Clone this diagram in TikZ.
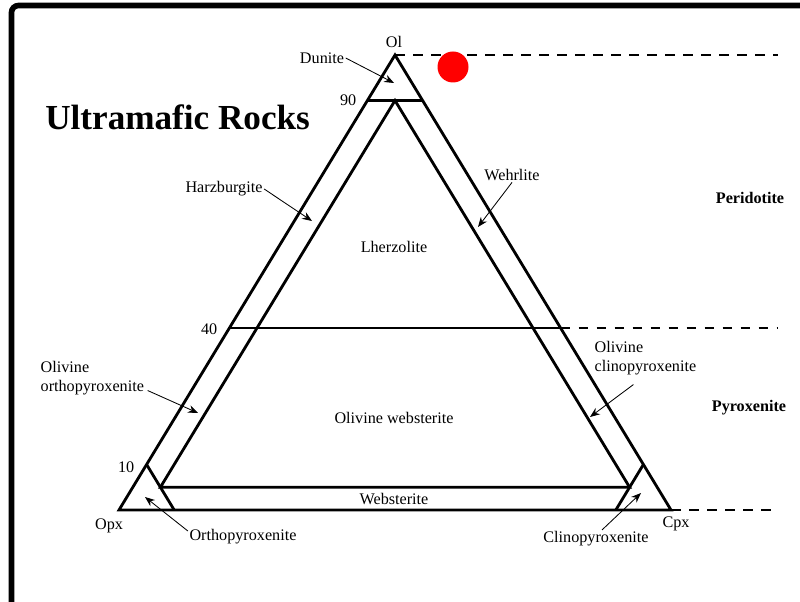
\documentclass[tikz,border=0pt]{standalone}
\usepackage{fontspec}
\setmainfont{Liberation Serif}
\usetikzlibrary{positioning,arrows.meta,calc}
\definecolor{dotR}{HTML}{FF0000}
\tikzset{
 edge/.style={line width=2pt, line join=miter},
 dashline/.style={line width=2pt, dash pattern=on 7pt off 5.8pt},
 arr/.style={-{Stealth[length=7pt,width=5.5pt]}, line width=0.6pt},
 lbl/.style={font=\fontsize{11.5}{13.5}\selectfont, inner sep=1pt, align=left},
 grp/.style={font=\fontsize{11.5}{13.5}\selectfont\bfseries, inner sep=1pt},
}
\begin{document}
\begin{tikzpicture}[x=0.025cm, y=-0.025cm]
\useasboundingbox (0,0) rectangle (800,602);
\clip (0,0) rectangle (800,602);
% frame
\draw[line width=4pt, rounded corners=5pt] (11.5,5.5) rectangle (840,650);
% corners of the diagram
\coordinate (ol) at (395,55);
\coordinate (opx) at (119,510);
\coordinate (cpx) at (671,510);
\coordinate (rim) at (778,0);
% field boundaries
\coordinate (o90a) at (barycentric cs:ol=0.9,opx=0.1,cpx=0);
\coordinate (o90b) at (barycentric cs:ol=0.9,opx=0,cpx=0.1);
\coordinate (o40a) at (barycentric cs:ol=0.4,opx=0.6,cpx=0);
\coordinate (o40b) at (barycentric cs:ol=0.4,opx=0,cpx=0.6);
\coordinate (in1) at (barycentric cs:ol=0.9,opx=0.05,cpx=0.05);
\coordinate (in2) at (barycentric cs:ol=0.05,opx=0.9,cpx=0.05);
\coordinate (in3) at (barycentric cs:ol=0.05,opx=0.05,cpx=0.9);
\coordinate (px1) at (barycentric cs:ol=0.1,opx=0.9,cpx=0);
\coordinate (px2) at (barycentric cs:ol=0,opx=0.9,cpx=0.1);
\coordinate (cx1) at (barycentric cs:ol=0.1,opx=0,cpx=0.9);
\coordinate (cx2) at (barycentric cs:ol=0,opx=0.1,cpx=0.9);
\draw[edge] (ol) -- (opx) -- (cpx) -- cycle;
\draw[edge] (o90a) -- (o90b);
\draw[edge] (in3) -- (in1) -- (in2) -- cycle;
\draw[edge] (o40a) -- (o40b);
\draw[edge] (px1) -- (px2);
\draw[edge] (cx1) -- (cx2);
% dashed limits
\draw[dashline] (ol) -- (ol -| rim);
\draw[dashline] (o40b) -- (o40b -| rim);
\draw[dashline] (cpx) -- (cpx -| rim);
% marker
\fill[dotR] (453,67) circle (15.5);
% title and end members
\node[font=\fontsize{25}{30}\selectfont\bfseries, anchor=west, inner sep=0pt] (title) at (45,117) {Ultramafic Rocks};
\node[lbl] (olL) at (394,42) {Ol};
\node[lbl] (opxL) at (109,526) {Opx};
\node[lbl] (cpxL) at (676,524) {Cpx};
\node[lbl, anchor=east] (n90) at (358,100) {90};
\node[lbl, anchor=east] (n40) at (219,329) {40};
\node[lbl, anchor=east] (n10) at (136,467) {10};
% rock names
\node[lbl] (dun) at (322,58) {Dunite};
\node[lbl] (harz) at (224,189) {Harzburgite};
\node[lbl] (wehr) at (512,175) {Wehrlite};
\node[lbl] (lherz) at (394,247) {Lherzolite};
\node[lbl, anchor=west] (oopx) at (39,378) {Olivine\\orthopyroxenite};
\node[lbl, anchor=west] (ocpx) at (593,358) {Olivine\\clinopyroxenite};
\node[lbl] (owebs) at (394,418) {Olivine websterite};
\node[lbl] (webs) at (394,499) {Websterite};
\node[lbl] (orth) at (243,537) {Orthopyroxenite};
\node[lbl] (clin) at (596,539) {Clinopyroxenite};
\node[grp] (perid) at (750,198) {Peridotite};
\node[grp] (pyrox) at (749,408) {Pyroxenite};
% arrows
\coordinate (dunT) at (394,83);
\coordinate (harzT) at (312,221);
\coordinate (wehrT) at (478,227);
\coordinate (oopxT) at (198,413);
\coordinate (ocpxT) at (590,417);
\coordinate (orthT) at (145,497);
\coordinate (clinT) at (641,493);
\draw[arr] (dun.east) -- (dunT);
\draw[arr] (harz.east) -- (harzT);
\draw[arr] (wehr.south) -- (wehrT);
\draw[arr] ($(oopx.south east)+(2,-6)$) -- (oopxT);
\draw[arr] ($(ocpx.south)+(-12,8)$) -- (ocpxT);
\draw[arr] ($(orth.west)+(0,-6)$) -- (orthT);
\draw[arr] ($(clin.north)+(6,0)$) -- (clinT);
\end{tikzpicture}
\end{document}
